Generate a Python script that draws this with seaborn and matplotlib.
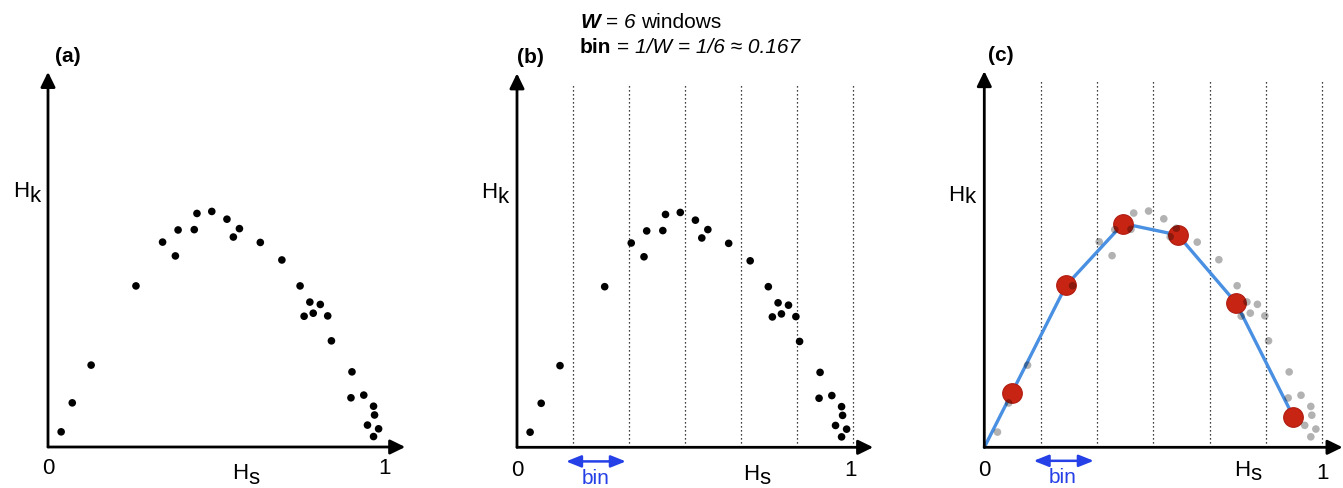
import matplotlib
matplotlib.use("Agg")
import matplotlib.pyplot as plt
from matplotlib.text import Annotation
import seaborn as sns
import pandas as pd

# ---------------- data ----------------
hs = [0.039, 0.072, 0.128, 0.261, 0.340, 0.378, 0.386, 0.434, 0.442, 0.486,
      0.531, 0.550, 0.568, 0.630, 0.694, 0.748, 0.777, 0.808, 0.760, 0.787,
      0.830, 0.841, 0.902, 0.899, 0.937, 0.966, 0.969, 0.948, 0.981, 0.966]
hk = [0.045, 0.131, 0.243, 0.478, 0.608, 0.567, 0.644, 0.645, 0.693, 0.699,
      0.676, 0.623, 0.648, 0.607, 0.555, 0.478, 0.430, 0.423, 0.388, 0.397,
      0.389, 0.315, 0.223, 0.146, 0.154, 0.121, 0.095, 0.065, 0.054, 0.031]
window_edges = [1/6, 2/6, 3/6, 4/6, 5/6, 6/6]
centroid_hs = [0.081, 0.242, 0.411, 0.573, 0.745, 0.914]
centroid_hk = [0.160, 0.479, 0.662, 0.628, 0.427, 0.091]
line_hs = [0.0] + centroid_hs
line_hk = [0.0] + centroid_hk
panel_labels = ["(a)", "(b)", "(c)"]

pts = pd.DataFrame({"Hs": hs, "Hk": hk})
cen = pd.DataFrame({"Hs": centroid_hs, "Hk": centroid_hk})
lin = pd.DataFrame({"Hs": line_hs, "Hk": line_hk})

# ---------------- style ----------------
sns.set_theme(style="white")
plt.rcParams["font.family"] = ["Liberation Sans", "DejaVu Sans"]
plt.rcParams["text.color"] = "black"

W, H = 1343, 488
fig = plt.figure(figsize=(W / 100, H / 100), dpi=100)

XMIN, XMAX, YMIN, YMAX = -0.14, 1.1, -0.13, 1.3
# origin (px from left, px from top) and px per unit for each panel
panels = [(48.0, 447.0, 337.0), (517.0, 447.3, 336.0), (984.3, 447.3, 338.0)]

axes = []
for ox, oy, s in panels:
    left = (ox + XMIN * s) / W
    bottom = ((H - oy) + YMIN * s) / H
    ax = fig.add_axes([left, bottom, (XMAX - XMIN) * s / W, (YMAX - YMIN) * s / H])
    ax.set_xlim(XMIN, XMAX)
    ax.set_ylim(YMIN, YMAX)
    ax.axis("off")
    axes.append(ax)

BLUE_TXT = "#2440e6"
LINE_BLUE = "#4a90e2"
RED = "#c82414"


def axis_arrows(ax):
    kw = dict(arrowstyle="-|>,head_length=0.45,head_width=0.22", color="black",
              lw=2.0, shrinkA=0, shrinkB=0, mutation_scale=20)
    ax.annotate("", xy=(1.06, 0), xytext=(0, 0), arrowprops=kw, annotation_clip=False)
    ax.annotate("", xy=(0, 1.113), xytext=(0, 0), arrowprops=kw, annotation_clip=False)


def sublabel(ax, x, y, main, sub, drop=0.0, fs=16):
    t = ax.text(x, y, main, fontsize=fs, ha="left", va="baseline", clip_on=False)
    ax.annotate(sub, xy=(1, 0), xycoords=t, xytext=(0.3, drop),
                textcoords="offset points", fontsize=fs, ha="left", va="baseline",
                annotation_clip=False)


def bin_arrow(ax, y_arrow, y_text):
    ax.annotate("", xy=(0.324, y_arrow), xytext=(0.146, y_arrow),
                arrowprops=dict(arrowstyle="<|-|>,head_length=0.5,head_width=0.2",
                                color=BLUE_TXT, lw=1.8, shrinkA=0, shrinkB=0,
                                mutation_scale=18), annotation_clip=False)
    ax.text(0.233, y_text, "bin", color=BLUE_TXT, fontsize=15, ha="center",
            va="center", clip_on=False)


def dotted(ax, ytop=1.083):
    for xe in window_edges:
        ax.plot([xe, xe], [0, ytop], color="black", lw=0.9,
                linestyle=(0, (1, 2.2)), zorder=0)


# ---------- panel (a) ----------
ax = axes[0]
axis_arrows(ax)
sns.scatterplot(data=pts, x="Hs", y="Hk", ax=ax, color="black", s=30,
                edgecolor="none", legend=False)
sublabel(ax, -0.104, 0.742, "H", "k", drop=0.0)
sublabel(ax, 0.545, -0.095, "H", "s", drop=0.0)
ax.text(0.0, -0.065, "0", fontsize=16, ha="center", va="center")
ax.text(1.0, -0.065, "1", fontsize=16, ha="center", va="center")

# ---------- panel (b) ----------
ax = axes[1]
dotted(ax)
axis_arrows(ax)
sns.scatterplot(data=pts, x="Hs", y="Hk", ax=ax, color="black", s=30,
                edgecolor="none", legend=False)
sublabel(ax, -0.108, 0.742, "H", "k", drop=0.0)
sublabel(ax, 0.672, -0.097, "H", "s", drop=0.5)
ax.text(0.0, -0.07, "0", fontsize=16, ha="center", va="center")
ax.text(0.993, -0.07, "1", fontsize=16, ha="center", va="center")
bin_arrow(ax, -0.042, -0.092)

# ---------- panel (c) ----------
ax = axes[2]
dotted(ax, ytop=1.09)
axis_arrows(ax)
sns.lineplot(data=lin, x="Hs", y="Hk", ax=ax, color=LINE_BLUE, lw=2.4,
             sort=False, zorder=2)
sns.scatterplot(data=cen, x="Hs", y="Hk", ax=ax, color=RED, s=200,
                edgecolor="#b01c10", linewidth=0.8, legend=False, zorder=3)
sns.scatterplot(data=pts, x="Hs", y="Hk", ax=ax, color="black", alpha=0.3,
                s=30, edgecolor="none", legend=False, zorder=4)
sublabel(ax, -0.107, 0.73, "H", "k", drop=1.8)
sublabel(ax, 0.739, -0.085, "H", "s", drop=0.5)
ax.text(0.0, -0.07, "0", fontsize=16, ha="center", va="center")
ax.text(1.0, -0.078, "1", fontsize=16, ha="center", va="center")
bin_arrow(ax, -0.04, -0.088)

for ax, lab, lx in zip(axes, panel_labels, [0.021, 0.0, 0.011]):
    ax.text(lx, 1.16, lab, fontsize=15, fontweight="bold", ha="left",
            va="center", clip_on=False)


# ---------- header (rich text chained piece by piece) ----------
def chain(x_px, y_px, pieces, fs=15):
    gap = 0.28 * fs
    txt0, w0, s0 = pieces[0][:3]
    prev = fig.text(x_px / W, 1 - y_px / H, txt0, fontsize=fs,
                    fontweight=w0, fontstyle=s0, ha="left", va="bottom")
    for txt, weight, style, sp in pieces[1:]:
        prev = fig.add_artist(Annotation(
            txt, xy=(1, 0), xycoords=prev, xytext=(gap if sp else 0, 0),
            textcoords="offset points", fontsize=fs, fontweight=weight,
            fontstyle=style, ha="left", va="bottom"))


chain(580, 31.5, [("W", "bold", "italic"),
                  ("=", "normal", "normal", True),
                  ("6", "normal", "italic", True),
                  ("windows", "normal", "normal", True)])
chain(580, 57, [("bin", "bold", "normal"),
                ("=", "normal", "normal", True),
                ("1/W = 1/6 ≈ 0.167", "normal", "italic", True)])

fig.savefig("out.png", dpi=100)
